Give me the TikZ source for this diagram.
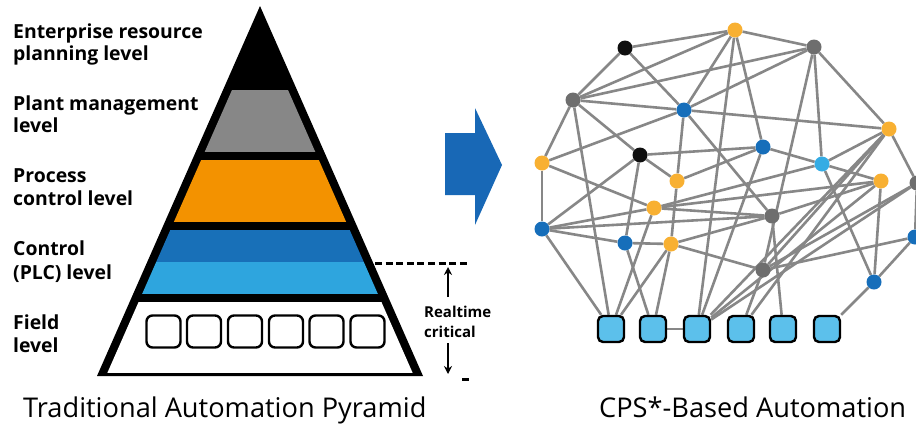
\documentclass[tikz,border=0pt]{standalone}
\usepackage{fontspec}
\setmainfont{Open Sans}
\newfontfamily\lblfont{Open Sans}
\usetikzlibrary{arrows.meta}
\pgfdeclarelayer{bgw}
\pgfdeclarelayer{edges}
\pgfsetlayers{bgw,edges,main}
\definecolor{edgegray}{RGB}{135,135,135}
\definecolor{nblack}{RGB}{15,15,15}
\definecolor{ngray}{RGB}{110,110,110}
\definecolor{norange}{RGB}{248,176,50}
\definecolor{nblue}{RGB}{22,110,186}
\definecolor{nlblue}{RGB}{53,172,228}
\definecolor{sqblue}{RGB}{92,192,235}
\definecolor{pgray}{RGB}{135,135,135}
\definecolor{porange}{RGB}{243,146,0}
\definecolor{pdblue}{RGB}{24,112,184}
\definecolor{plblue}{RGB}{46,165,222}
\definecolor{arrblue}{RGB}{24,104,182}
\begin{document}
\begin{tikzpicture}[x=1pt,y=-1pt,
  nd/.style={circle, inner sep=0pt, minimum size=15pt},
  sqbox/.style={draw=black, line width=2.4pt, fill=sqblue, rounded corners=5pt, minimum width=26pt, minimum height=26pt, inner sep=0pt},
  fieldbox/.style={draw=black, line width=2.4pt, fill=white, rounded corners=6pt, minimum width=34pt, minimum height=32pt, inner sep=0pt},
  netln/.style={draw=edgegray, line width=2.6pt},
  lbl/.style={anchor=base west, inner sep=0pt, font=\lblfont\bfseries\fontsize{19.4}{22}\selectfont},
  rtl/.style={anchor=base west, inner sep=0pt, font=\lblfont\bfseries\fontsize{15}{20}\selectfont},
  ttl/.style={anchor=base west, inner sep=0pt, font=\fontsize{27.2}{32}\selectfont}]
\useasboundingbox (0,0) rectangle (916,424);
\begin{pgfonlayer}{bgw}
\fill[white] (0,0) rectangle (916,424);
\end{pgfonlayer}

% ---------------- pyramid ----------------
\fill[black] (260,6) -- (423,376) -- (97,376) -- cycle;
\begin{scope}
  \clip (260,26.4) -- (412.7,373) -- (107.3,373) -- cycle;
  \fill[pgray] (90,90) rectangle (430,152);
  \fill[porange] (90,160) rectangle (430,222);
  \fill[pdblue] (90,230) rectangle (430,262);
  \fill[plblue] (90,262) rectangle (430,294);
  \fill[white] (90,302) rectangle (430,373);
\end{scope}
\foreach \i/\x in {1/163.5,2/204,3/245,4/286,5/326.5,6/367.5}
  \node[fieldbox] (p\i) at (\x,331.5) {};

% labels
\node[lbl] (l1a) at (13,38) {Enterprise resource};
\node[lbl] (l1b) at (13,60) {planning level};
\node[lbl] (l2a) at (13,110) {Plant management};
\node[lbl] (l2b) at (13,132) {level};
\node[lbl] (l3a) at (13,182) {Process};
\node[lbl] (l3b) at (13,205) {control level};
\node[lbl] (l4a) at (13,255) {Control};
\node[lbl] (l4b) at (13,279) {(PLC) level};
\node[lbl] (l5a) at (13,329) {Field};
\node[lbl] (l5b) at (13,352) {level};

% realtime
\coordinate (dl) at (375,263);
\coordinate (dr) at (469,263);
\draw[line width=3pt, dash pattern=on 7pt off 3.6pt] (dl) -- (dr);
\node[rtl] (rt1) at (424,317) {Realtime};
\node[rtl] (rt2) at (424,337) {critical};
\coordinate (ua) at (448,297);
\coordinate (ub) at (448,267);
\coordinate (da) at (448,343);
\coordinate (db) at (448,374);
\draw[line width=2pt, -{Stealth[length=8pt,width=8pt]}] (ua) -- (ub);
\draw[line width=2pt, -{Stealth[length=8pt,width=8pt]}] (da) -- (db);
\coordinate (ma) at (462,379);
\coordinate (mb) at (469,379);
\draw[line width=3pt] (ma) -- (mb);

% big arrow
\fill[arrblue] (445,133) -- (475,133) -- (475,108) -- (502,165) -- (475,225) -- (475,195) -- (445,195) -- cycle;

% ---------------- network ----------------
\node[nd, fill=nblack]  (a1) at (625,48) {};
\node[nd, fill=norange] (a2) at (735,30) {};
\node[nd, fill=ngray]   (a3) at (814,47) {};
\node[nd, fill=ngray]   (a4) at (573,100) {};
\node[nd, fill=nblue]   (a5) at (684,110) {};
\node[nd, fill=norange] (a6) at (889,129) {};
\node[nd, fill=nblack]  (a7) at (640,155) {};
\node[nd, fill=nblue]   (a8) at (763,147) {};
\node[nd, fill=nlblue]  (a9) at (822,164) {};
\node[nd, fill=norange] (a10) at (542,163) {};
\node[nd, fill=norange] (a11) at (677,181) {};
\node[nd, fill=norange] (a12) at (881,181) {};
\node[nd, fill=ngray]   (a13) at (917,183) {};
\node[nd, fill=norange] (a14) at (654,208) {};
\node[nd, fill=ngray]   (a15) at (772,216) {};
\node[nd, fill=nblue]   (a16) at (542,229) {};
\node[nd, fill=nblue]   (a17) at (915,237) {};
\node[nd, fill=nblue]   (a18) at (625,243) {};
\node[nd, fill=norange] (a19) at (671,244) {};
\node[nd, fill=ngray]   (a20) at (763,270) {};
\node[nd, fill=nblue]   (a21) at (874,282) {};
\foreach \i/\x in {1/611,2/653,3/697,4/741,5/783,6/827}
  \node[sqbox] (s\i) at (\x,329) {};

\begin{pgfonlayer}{edges}
\foreach \a/\b in {a1/a2,a1/a4,a1/a5,
  a2/a3,a2/a4,a2/a5,a2/a8,a2/s3,
  a3/a4,a3/a5,a3/a9,a3/a20,a3/a6,
  a4/a5,a4/a10,a4/a7,a4/s1,
  a5/a6,a5/a10,a5/a11,a5/a15,
  a6/a9,a6/a13,a6/s4,a6/a20,a6/s3,
  a7/a8,a7/a11,a7/a18,a7/a16,
  a8/a9,a8/a11,a8/s3,
  a9/a12,a9/a14,a9/a21,
  a10/a16,a10/a14,
  a11/a19,
  a12/a15,a12/a21,a12/a14,a12/s3,
  a13/a17,a13/a20,a13/s3,
  a14/a15,a14/a16,a14/s1,
  a15/s5,a15/a19,
  a16/a18,a16/s1,a16/a15,
  a17/a20,a17/a21,
  a18/s2,a18/a19,
  a19/s1,a19/s2,a19/a20,
  a20/s4,
  a21/s6,
  s2/s3}
  \draw[netln] (\a) -- (\b);
\end{pgfonlayer}

% titles
\node[ttl] (t1) at (23,417) {Traditional Automation Pyramid};
\node[ttl] (t2) at (599,417) {CPS*-Based Automation};
\end{tikzpicture}
\end{document}
